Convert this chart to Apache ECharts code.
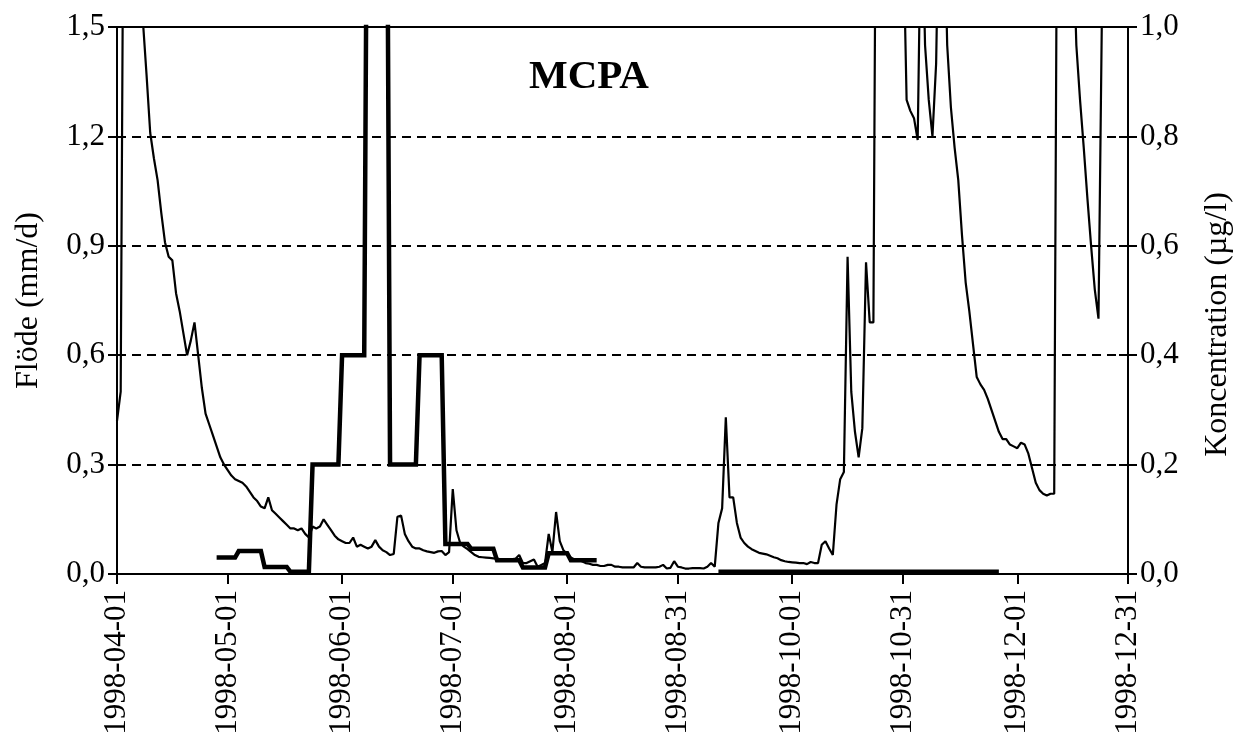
<!DOCTYPE html>
<html>
<head>
<meta charset="utf-8">
<title>MCPA</title>
<script src="https://cdn.jsdelivr.net/npm/echarts@6/dist/echarts.min.js"></script>
<style>
  html, body { margin: 0; padding: 0; background: #fff; }
  #main { width: 1236px; height: 741px; }
</style>
</head>
<body>
<div id="main"></div>
<script>
// daily flow (mm/d) from 1998-04-01, one value per day
const flow = [
  0.42, 0.50, 2.4, 2.8, 2.6, 2.3, 1.9, 1.52, 1.37, 1.21,
  1.14, 1.08, 0.99, 0.91, 0.87, 0.86, 0.77, 0.72, 0.66, 0.60,
  0.64, 0.69, 0.60, 0.51, 0.44, 0.41, 0.38, 0.35, 0.32, 0.30,
  0.285, 0.27, 0.26, 0.255, 0.25, 0.24, 0.225, 0.21, 0.20, 0.185,
  0.18, 0.21, 0.175, 0.165, 0.155, 0.145, 0.135, 0.125, 0.125, 0.12,
  0.125, 0.11, 0.10, 0.13, 0.125, 0.13, 0.15, 0.135, 0.12, 0.105,
  0.095, 0.09, 0.085, 0.085, 0.10, 0.075, 0.08, 0.075, 0.07, 0.075,
  0.093, 0.075, 0.065, 0.06, 0.052, 0.055, 0.157, 0.16, 0.11, 0.09,
  0.075, 0.07, 0.07, 0.065, 0.062, 0.06, 0.058, 0.062, 0.063, 0.052,
  0.06, 0.233, 0.12, 0.085, 0.075, 0.068, 0.06, 0.052, 0.047, 0.046,
  0.045, 0.044, 0.043, 0.042, 0.04, 0.04, 0.04, 0.04, 0.042, 0.052,
  0.03, 0.03, 0.035, 0.04, 0.02, 0.025, 0.03, 0.11, 0.06, 0.17,
  0.09, 0.065, 0.055, 0.045, 0.04, 0.038, 0.035, 0.03, 0.028, 0.025,
  0.025, 0.022, 0.022, 0.025, 0.025, 0.02, 0.02, 0.018, 0.018, 0.018,
  0.018, 0.03, 0.02, 0.018, 0.018, 0.018, 0.018, 0.02, 0.025, 0.015,
  0.017, 0.035, 0.02, 0.018, 0.015, 0.015, 0.016, 0.016, 0.016, 0.015,
  0.02, 0.03, 0.02, 0.14, 0.18, 0.43, 0.21, 0.21, 0.14, 0.10,
  0.085, 0.075, 0.068, 0.063, 0.058, 0.056, 0.054, 0.05, 0.046, 0.043,
  0.038, 0.035, 0.033, 0.032, 0.031, 0.03, 0.03, 0.027, 0.033, 0.03,
  0.03, 0.08, 0.09, 0.07, 0.052, 0.19, 0.26, 0.28, 0.87, 0.50,
  0.39, 0.32, 0.40, 0.855, 0.69, 0.69, 2.6, 3.2, 3.5, 3.0,
  2.7, 2.4, 2.1, 1.8, 1.30, 1.27, 1.25, 1.19, 1.9, 1.45,
  1.3, 1.2, 1.4, 2.0, 1.9, 1.45, 1.28, 1.17, 1.08, 0.93,
  0.80, 0.72, 0.63, 0.54, 0.52, 0.505, 0.48, 0.45, 0.42, 0.39,
  0.37, 0.37, 0.355, 0.35, 0.345, 0.36, 0.355, 0.33, 0.29, 0.25,
  0.23, 0.22, 0.215, 0.22, 0.22, 2.4, 2.8, 2.6, 2.2, 1.8,
  1.45, 1.30, 1.17, 1.03, 0.90, 0.78, 0.70, 1.6, 2.2, 2.9,
  2.7, 2.5, 2.3, 2.1, 2.0
];

// composite samples: first day, last day (days after 1998-04-01), concentration (µg/l)
const concStart = [27, 33, 40, 47, 53, 61, 68, 74, 82, 89, 96, 103, 110, 117, 123, 163];
const concEnd   = [32, 39, 46, 52, 60, 67, 73, 81, 88, 95, 102, 109, 116, 122, 130, 239];
const concValue = [0.03, 0.042, 0.013, 0.004, 0.2, 0.4, 1.6, 0.2, 0.4, 0.055, 0.046, 0.025, 0.012, 0.038, 0.025, 0.004];

const tickLabels = ['1998-04-01', '1998-05-01', '1998-06-01', '1998-07-01', '1998-08-01',
  '1998-08-31', '1998-10-01', '1998-10-31', '1998-12-01', '1998-12-31'];

const t0 = Date.UTC(1998, 3, 1);
const tickDays = tickLabels.map(function (s) {
  const p = s.split('-');
  return Math.round((Date.UTC(+p[0], +p[1] - 1, +p[2]) - t0) / 86400000);
});

const flowData = flow.map(function (v, i) { return [i, v]; });
const concData = [];
for (let i = 0; i < concStart.length; i++) {
  if (i > 0 && concStart[i] !== concEnd[i - 1] + 1) concData.push([concEnd[i - 1] + 1, null]);
  concData.push([concStart[i], concValue[i]]);
  concData.push([concEnd[i], concValue[i]]);
}

const font = 'Liberation Serif';
const comma = function (v) { return v.toFixed(1).replace('.', ','); };

const chart = echarts.init(document.getElementById('main'));
chart.setOption({
  animation: false,
  backgroundColor: '#fff',
  title: {
    text: 'MCPA',
    left: 529, top: 57, padding: 0,
    textStyle: { fontFamily: font, fontSize: 41, fontWeight: 'bold', color: '#000' }
  },
  grid: {
    left: 117, right: 108, top: 27, bottom: 167,
    outerBoundsMode: 'none', containLabel: false,
    show: true, borderColor: '#000', borderWidth: 2
  },
  xAxis: {
    type: 'value',
    min: 0, max: 274,
    axisLine: { lineStyle: { color: '#000', width: 2 } },
    axisTick: { length: 10, lineStyle: { color: '#000', width: 2 }, customValues: tickDays },
    axisLabel: {
      customValues: tickDays,
      rotate: 90, margin: 16,
      fontFamily: font, fontSize: 31, color: '#000',
      formatter: function (v) {
        const i = tickDays.indexOf(Math.round(v));
        return i >= 0 ? tickLabels[i] : '';
      }
    },
    splitLine: { show: false }
  },
  yAxis: [
    {
      type: 'value', position: 'left', min: 0, max: 1.5, interval: 0.3,
      name: 'Flöde (mm/d)', nameLocation: 'middle', nameGap: 72,
      nameTextStyle: { fontFamily: font, fontSize: 32, color: '#000' },
      axisLine: { show: true, lineStyle: { color: '#000', width: 2 } },
      axisTick: { show: true, length: 9, lineStyle: { color: '#000', width: 2 } },
      axisLabel: { margin: 12, fontFamily: font, fontSize: 31, color: '#000', formatter: comma },
      splitLine: { show: true, lineStyle: { color: '#000', width: 2, type: [9, 6] } }
    },
    {
      type: 'value', position: 'right', min: 0, max: 1.0, interval: 0.2,
      name: 'Koncentration (µg/l)', nameLocation: 'middle', nameGap: 74,
      nameTextStyle: { fontFamily: font, fontSize: 32, color: '#000', padding: [0, 48, 0, 0] },
      axisLine: { show: true, lineStyle: { color: '#000', width: 2 } },
      axisTick: { show: true, length: 9, lineStyle: { color: '#000', width: 2 } },
      axisLabel: { margin: 12, fontFamily: font, fontSize: 31, color: '#000', formatter: comma },
      splitLine: { show: false }
    },
    {
      type: 'value', position: 'left', min: 0, max: 1.5, interval: 0.3,
      axisLine: { show: false }, axisLabel: { show: false }, splitLine: { show: false },
      axisTick: { show: true, inside: true, length: 9, lineStyle: { color: '#000', width: 2 } }
    },
    {
      type: 'value', position: 'right', min: 0, max: 1.0, interval: 0.2,
      axisLine: { show: false }, axisLabel: { show: false }, splitLine: { show: false },
      axisTick: { show: true, inside: true, length: 9, lineStyle: { color: '#000', width: 2 } }
    }
  ],
  series: [
    {
      name: 'Flöde', type: 'line', yAxisIndex: 0,
      data: flowData, showSymbol: false, clip: true,
      lineStyle: { color: '#000', width: 2.2 }
    },
    {
      name: 'Koncentration', type: 'line', yAxisIndex: 1,
      data: concData, showSymbol: false, clip: true, connectNulls: false,
      lineStyle: { color: '#000', width: 4.5, join: 'miter' }
    }
  ]
});
</script>
</body>
</html>
